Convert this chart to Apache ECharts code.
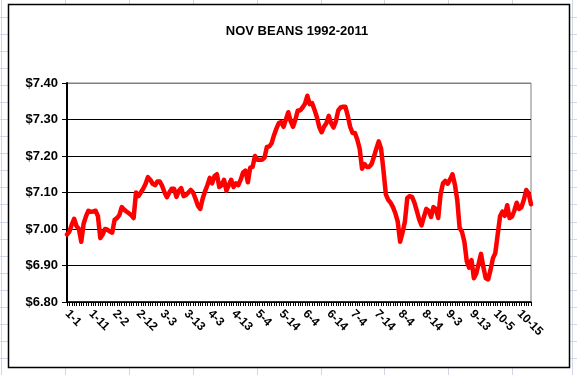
<!DOCTYPE html>
<html>
<head>
<meta charset="utf-8">
<script src="https://cdn.jsdelivr.net/npm/echarts@6/dist/echarts.min.js"></script>
<style>html,body{margin:0;padding:0;background:#fff}#c{width:577px;height:375px}</style>
</head>
<body>
<div id="c"></div>
<script>
var titleText = 'NOV BEANS 1992-2011';
var tickLabels = ['1-1','1-11','2-2','2-12','3-3','3-13','4-3','4-13','5-4','5-14','6-4','6-14','7-4','7-14','8-4','8-14','9-3','9-13','10-5','10-15'];
var prices = [
6.985,6.993,7.012,7.028,7.008,7.000,6.965,7.015,7.035,7.050,
7.047,7.048,7.050,7.035,6.975,6.985,7.000,6.998,6.993,6.990,
7.025,7.030,7.038,7.060,7.053,7.048,7.043,7.038,7.030,7.100,
7.090,7.100,7.110,7.123,7.142,7.135,7.124,7.120,7.130,7.130,
7.118,7.100,7.087,7.100,7.110,7.110,7.088,7.105,7.112,7.090,
7.093,7.100,7.107,7.100,7.083,7.064,7.055,7.083,7.103,7.120,
7.140,7.125,7.145,7.150,7.115,7.120,7.135,7.105,7.120,7.135,
7.115,7.125,7.120,7.135,7.155,7.160,7.128,7.168,7.170,7.200,
7.190,7.190,7.190,7.195,7.225,7.226,7.235,7.257,7.275,7.290,
7.293,7.280,7.300,7.320,7.295,7.280,7.300,7.325,7.325,7.333,
7.343,7.365,7.342,7.345,7.327,7.307,7.280,7.265,7.280,7.290,
7.310,7.290,7.278,7.295,7.325,7.333,7.335,7.335,7.310,7.280,
7.263,7.263,7.245,7.220,7.165,7.178,7.170,7.170,7.178,7.198,
7.220,7.240,7.220,7.160,7.095,7.080,7.072,7.060,7.043,7.020,
6.965,6.990,7.020,7.085,7.090,7.088,7.072,7.050,7.026,7.010,
7.033,7.055,7.050,7.033,7.060,7.055,7.030,7.095,7.125,7.132,
7.124,7.136,7.150,7.122,7.080,7.003,6.992,6.965,6.912,6.894,
6.915,6.865,6.878,6.905,6.932,6.895,6.865,6.862,6.888,6.920,
6.934,6.985,7.035,7.048,7.036,7.065,7.030,7.034,7.050,7.072,
7.055,7.060,7.080,7.107,7.098,7.068
];
var categories = prices.map(function(_, i){ return 'd' + i; });

var chart = echarts.init(document.getElementById('c'), null, {renderer:'canvas'});

var bg = [];
var colX = [1,65,129,193,257,321,384,448,512,572];
colX.forEach(function(x){ bg.push({type:'line', z:-20, shape:{x1:x+0.5,y1:0,x2:x+0.5,y2:375}, style:{stroke:'#d0d7e5',lineWidth:1}}); });
for (var k=0;k<23;k++){ var y=Math.round(16.7+17.07*k)+0.5; bg.push({type:'line', z:-20, shape:{x1:0,y1:y,x2:577,y2:y}, style:{stroke:'#d0d7e5',lineWidth:1}}); }
bg.push({type:'rect', z:-10, shape:{x:8.5,y:4.5,width:561,height:363}, style:{fill:'#fff',stroke:'#000',lineWidth:1.5}});

var splitColors = ['#000','#000','#000','#000','#000','#000','#808080'];

chart.setOption({
  animation:false,
  backgroundColor:'#fff',
  graphic: bg,
  title:{
    text:titleText, left:292, top:20, textAlign:'center',
    textStyle:{fontFamily:'Liberation Sans', fontWeight:'bold', fontSize:13, color:'#000'}
  },
  grid:{left:67, right:46, top:83, bottom:73, show:true, borderColor:'#808080', borderWidth:1, backgroundColor:'#fff'},
  xAxis:{
    type:'category', data:categories, boundaryGap:false,
    axisLine:{lineStyle:{color:'#000', width:1.5}},
    axisTick:{show:true, interval:0, length:4, lineStyle:{color:'#000'}},
    axisLabel:{
      interval:9, rotate:-45, margin:10,
      fontFamily:'Liberation Sans', fontWeight:'bold', fontSize:12, color:'#000',
      formatter:function(v, idx){ return idx % 10 === 0 ? (tickLabels[idx/10] || '') : ''; }
    },
    splitLine:{show:false}
  },
  yAxis:{
    type:'value', min:6.8, max:7.4, interval:0.1,
    axisLine:{show:true, lineStyle:{color:'#000', width:2}},
    axisTick:{show:true, length:5, lineStyle:{color:'#000'}},
    axisLabel:{
      margin:9, fontFamily:'Liberation Sans', fontWeight:'bold', fontSize:13, color:'#000',
      formatter:function(v){ return '$' + v.toFixed(2); }
    },
    splitLine:{show:true, lineStyle:{color:splitColors, width:1}}
  },
  series:[{
    type:'line', data:prices, showSymbol:false, symbol:'none',
    lineStyle:{color:'#ff0000', width:4.5, join:'round', cap:'round'},
    z:5
  }]
});
</script>
</body>
</html>
